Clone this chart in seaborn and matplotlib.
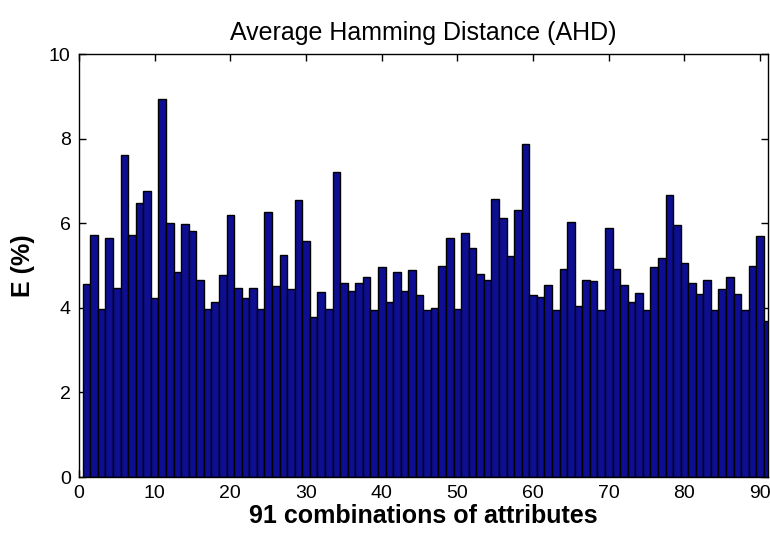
import numpy as np
import pandas as pd
import matplotlib
matplotlib.use("Agg")
import matplotlib.pyplot as plt
import seaborn as sns

# combination index and AHD error values (%)
combo = list(range(1, 92))
ahd = [4.57, 5.73, 3.97, 5.66, 4.47, 7.61, 5.72, 6.49, 6.76, 4.24,
       8.95, 6.01, 4.85, 5.98, 5.81, 4.67, 3.97, 4.13, 4.78, 6.19,
       4.47, 4.24, 4.47, 3.97, 6.26, 4.52, 5.26, 4.45, 6.56, 5.58,
       3.79, 4.38, 3.97, 7.22, 4.58, 4.40, 4.58, 4.74, 3.95, 4.96,
       4.15, 4.85, 4.40, 4.89, 4.30, 3.96, 4.00, 5.00, 5.66, 3.97,
       5.78, 5.42, 4.81, 4.67, 6.57, 6.12, 5.23, 6.31, 7.87, 4.30,
       4.26, 4.54, 3.95, 4.93, 6.04, 4.04, 4.67, 4.63, 3.96, 5.90,
       4.93, 4.55, 4.13, 4.36, 3.95, 4.97, 5.17, 6.67, 5.97, 5.05,
       4.58, 4.32, 4.67, 3.96, 4.45, 4.74, 4.32, 3.95, 5.00, 5.70,
       3.68]

df = pd.DataFrame({"combo": combo, "ahd": ahd})

sns.set_style("ticks")
plt.rcParams["font.family"] = ["Liberation Sans", "DejaVu Sans"]
plt.rcParams["text.color"] = "black"
plt.rcParams["axes.labelcolor"] = "black"
plt.rcParams["xtick.color"] = "black"
plt.rcParams["ytick.color"] = "black"
plt.rcParams["axes.edgecolor"] = "black"

fig = plt.figure(figsize=(7.7, 5.36), dpi=100)
ax = fig.add_axes([0.1026, 0.110, 0.8944, 0.789])

sns.barplot(data=df, x="combo", y="ahd", native_scale=True, width=1.0,
            color="#0e0e92", saturation=1, edgecolor="black", linewidth=1.0, ax=ax)

ax.set_xlim(0, 91)
ax.set_ylim(0, 10)
ax.set_xticks(range(0, 91, 10))
ax.set_yticks(range(0, 11, 2))
ax.tick_params(direction="in", top=True, right=True, labelsize=14, length=5, width=1, pad=6)
for s in ax.spines.values():
    s.set_visible(True)
    s.set_linewidth(1)

ax.set_title("Average Hamming Distance (AHD)", fontsize=18, pad=10)
ax.set_xlabel("91 combinations of attributes", fontsize=18, fontweight="bold", labelpad=1)
ax.set_ylabel("E (%)", fontsize=18, fontweight="bold", labelpad=10)

fig.savefig("out.png", dpi=100)
